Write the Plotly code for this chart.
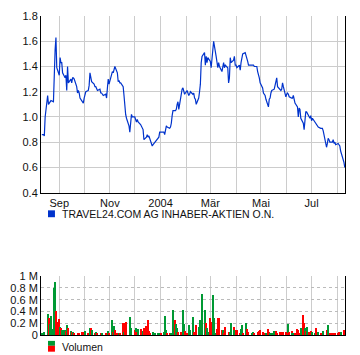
import plotly.graph_objects as go
import pandas as pd

# ---- data ----
price_name = "TRAVEL24.COM AG INHABER-AKTIEN O.N."
volume_name = "Volumen"

# daily close, trading days from 2003-08-11
price = [
    0.86, 0.86, 0.86, 0.85, 1.00, 1.17,
    1.10, 1.11, 1.12, 1.13, 1.12, 1.45,
    1.53, 1.63, 1.39, 1.33, 1.47, 1.43,
    1.43, 1.35, 1.31, 1.33, 1.21, 1.40,
    1.27, 1.30, 1.27, 1.31, 1.31, 1.30,
    1.24, 1.19, 1.21, 1.19, 1.15, 1.12,
    1.11, 1.15, 1.19, 1.20, 1.21, 1.25,
    1.35, 1.32, 1.28, 1.26, 1.24, 1.24,
    1.22, 1.21, 1.22, 1.19, 1.19, 1.18,
    1.17, 1.18, 1.15, 1.23, 1.30, 1.26,
    1.34, 1.36, 1.35, 1.39, 1.40, 1.35,
    1.28, 1.29, 1.27, 1.27, 1.24, 1.17,
    1.04, 1.02, 0.99, 0.93, 0.88, 1.00,
    1.02, 1.00, 1.00, 0.98, 0.96, 0.98,
    0.96, 0.94, 0.93, 0.92, 0.90, 0.82,
    0.84, 0.86, 0.84, 0.85, 0.83, 0.77,
    0.78, 0.79, 0.80, 0.81, 0.83, 0.84,
    0.88, 0.88, 0.88, 0.88, 0.86, 0.92,
    0.93, 0.92, 0.91, 0.92, 0.95, 1.01,
    1.05, 1.05, 1.06, 1.10, 1.12, 1.06,
    1.19, 1.22, 1.23, 1.19, 1.18, 1.21,
    1.19, 1.17, 1.18, 1.20, 1.18, 1.19,
    1.15, 1.14, 1.10, 1.15, 1.20, 1.26,
    1.43, 1.48, 1.51, 1.41, 1.48, 1.43,
    1.47, 1.44, 1.39, 1.49, 1.59, 1.60,
    1.48, 1.41, 1.39, 1.43, 1.40, 1.36,
    1.39, 1.43, 1.39, 1.41, 1.39, 1.27,
    1.31, 1.47, 1.43, 1.45, 1.48, 1.41,
    1.41, 1.39, 1.41, 1.37, 1.43, 1.48,
    1.50, 1.51, 1.49, 1.47, 1.44, 1.41,
    1.41, 1.41, 1.41, 1.41, 1.40, 1.40,
    1.36, 1.34, 1.31, 1.27, 1.23, 1.19,
    1.18, 1.17, 1.14, 1.08, 1.14, 1.15,
    1.19, 1.21, 1.22, 1.26, 1.28, 1.31,
    1.24, 1.22, 1.21, 1.22, 1.27, 1.24,
    1.16, 1.18, 1.19, 1.18, 1.16, 1.15,
    1.15, 1.17, 1.14, 1.11, 1.08, 1.00,
    1.07, 1.06, 0.99, 0.95, 0.90, 0.97,
    1.04, 1.04, 1.00, 0.99, 1.01, 0.97,
    0.99, 0.96, 0.94, 0.93, 0.93, 0.92,
    0.91, 0.91, 0.91, 0.89, 0.86, 0.76,
    0.79, 0.83, 0.82, 0.80, 0.80, 0.82,
    0.79, 0.80, 0.78, 0.79, 0.78, 0.77,
    0.73, 0.71, 0.64, 0.60,
]

# daily volume in thousands of shares
volume_k = [
    28, 0, 28, 55, 0, 67, 350, 280, 180, 320,
    100, 800, 900, 400, 220, 270, 130, 110, 80, 80,
    90, 70, 170, 0, 110, 70, 50, 50, 55, 30,
    0, 40, 40, 40, 0, 50, 50, 0, 67, 0,
    30, 0, 110, 110, 75, 0, 40, 50, 0, 30,
    0, 30, 0, 30, 0, 20, 0, 0, 67, 30,
    250, 0, 55, 150, 80, 40, 0, 40, 28, 0,
    195, 55, 195, 110, 220, 0, 300, 110, 80, 0,
    80, 110, 55, 0, 95, 55, 95, 0, 70, 110,
    150, 0, 260, 67, 40, 0, 55, 0, 28, 0,
    28, 0, 28, 0, 40, 55, 0, 320, 80, 28,
    0, 28, 28, 0, 430, 260, 190, 110, 55, 0,
    55, 0, 430, 190, 60, 40, 0, 170, 80, 80,
    310, 55, 0, 28, 165, 140, 55, 260, 55, 690,
    410, 420, 210, 110, 55, 280, 220, 80, 670, 290,
    28, 95, 290, 140, 280, 80, 80, 80, 28, 130,
    0, 55, 28, 55, 210, 130, 80, 55, 80, 80,
    0, 28, 95, 165, 28, 0, 195, 95, 50, 28,
    0, 28, 12, 50, 28, 0, 28, 50, 70, 80,
    55, 0, 28, 28, 40, 95, 55, 40, 0, 40,
    60, 40, 67, 28, 0, 45, 55, 28, 0, 50,
    55, 0, 180, 40, 55, 70, 28, 0, 28, 40,
    95, 80, 28, 0, 110, 330, 210, 110, 70, 130,
    45, 0, 60, 55, 0, 28, 110, 55, 0, 55,
    28, 0, 40, 60, 0, 55, 80, 165, 0, 28,
    17, 28, 0, 28, 0, 17, 55, 0, 50, 50,
    80, 40,
]

# g = up day (green bar), r = down day (red bar)
vol_dir = (
    "gggggggrgg gggrrrgrgg grggrgrrgr grrrgrrggg rggrggrggr "
    "grgggrgggr ggrgrrggrg rgrrrggggg rgrggrrggr rgrrrggggg "
    "ggggrggggr grgggrggrg rgggrrggrg grgrrggggg ggrggrrrgg "
    "grrgrrggrr grrggrggrr grggrggrrr ggrgrggrrr rgrrgrrggg "
    "ggrrgrrrgr rggrrrgggr rrrggrrgrg rgrgggrrgg rgrggrrggr "
    "rrgrgrrgrg rr"
)

month_labels = ["Sep", "", "Nov", "", "2004", "", "Mär", "", "Mai", "", "Jul", ""]
vol_tick_vals = [0, 200, 400, 600, 800, 1000]
vol_tick_text = ["0", "0.2 M", "0.4 M", "0.6 M", "0.8 M", "1 M"]

# ---- derived ----
dates = pd.bdate_range("2003-08-11", periods=len(price))
month_ticks = pd.date_range("2003-09-01", periods=len(month_labels), freq="MS")
dir_flags = vol_dir.replace(" ", "")
GREEN, RED, BLUE = "#009933", "#ff0000", "#0033cc"
bar_colors = [GREEN if c == "g" else RED for c in dir_flags]

# pixel helpers for the hand-drawn legends
W, H = 360, 355
ML, MR, MT, MB = 40, 15, 10, 20
PW, PH = W - ML - MR, H - MT - MB


def px_x(p):
    return (p - ML) / PW


def px_y(p):
    return (H - MB - p) / PH


GRID = "#cccccc"
FONT = "Liberation Sans, Arial, sans-serif"
tickfont = dict(family=FONT, size=11, color="#111111")

fig = go.Figure()
fig.add_trace(go.Scatter(
    x=dates, y=price, mode="lines", name=price_name,
    line=dict(color=BLUE, width=1.2),
    xaxis="x", yaxis="y", showlegend=False,
))
fig.add_trace(go.Bar(
    x=dates, y=volume_k, name=volume_name,
    marker=dict(color=bar_colors, line=dict(width=0)),
    width=1.25 * 86400000,
    xaxis="x2", yaxis="y2", showlegend=False,
))

xrange = ["2003-08-10", "2004-08-10 06:00"]
fig.update_layout(
    width=W, height=H,
    margin=dict(l=ML, r=MR, t=MT, b=MB, pad=0),
    paper_bgcolor="white", plot_bgcolor="white",
    font=dict(family=FONT, size=11, color="#111111"),
    bargap=0,
    xaxis=dict(
        domain=[0, 1], anchor="y", range=xrange, type="date",
        tickmode="array", tickvals=month_ticks, ticktext=month_labels,
        showgrid=True, gridcolor=GRID, gridwidth=1,
        showline=True, linecolor="black", linewidth=1,
        ticks="", tickfont=tickfont, zeroline=False,
    ),
    yaxis=dict(
        domain=[px_y(190), 1], anchor="x", range=[0.4, 1.8],
        tickmode="linear", tick0=0.4, dtick=0.2, tickformat=".1f",
        showgrid=True, gridcolor=GRID, gridwidth=1,
        showline=True, linecolor="black", linewidth=1, mirror=True,
        ticks="", tickfont=tickfont, zeroline=False,
    ),
    xaxis2=dict(
        domain=[0, 1], anchor="y2", range=xrange, type="date",
        tickmode="array", tickvals=month_ticks, showticklabels=False,
        showgrid=True, gridcolor=GRID, gridwidth=1,
        showline=True, linecolor="black", linewidth=1,
        ticks="", zeroline=False,
    ),
    yaxis2=dict(
        domain=[0, px_y(275)], anchor="x2", range=[0, 1000],
        tickmode="array", tickvals=vol_tick_vals, ticktext=vol_tick_text,
        showgrid=True, gridcolor="#bbbbbb", gridwidth=1, griddash="dot",
        showline=True, linecolor="black", linewidth=1, mirror=True,
        ticks="", tickfont=tickfont, zeroline=False,
    ),
)

# legends drawn as shapes + text
fig.add_shape(type="rect", xref="paper", yref="paper",
              x0=px_x(47), x1=px_x(54), y0=px_y(215), y1=px_y(208),
              fillcolor=BLUE, line=dict(width=0))
fig.add_annotation(xref="paper", yref="paper", x=px_x(59), y=px_y(211.5),
                   text=price_name, showarrow=False, xanchor="left", yanchor="middle",
                   font=dict(family=FONT, size=10.5, color="#111111"))
fig.add_shape(type="rect", xref="paper", yref="paper",
              x0=px_x(47), x1=px_x(54), y0=px_y(346), y1=px_y(341),
              fillcolor=GREEN, line=dict(width=0))
fig.add_shape(type="rect", xref="paper", yref="paper",
              x0=px_x(47), x1=px_x(54), y0=px_y(352), y1=px_y(346),
              fillcolor=RED, line=dict(width=0))
fig.add_annotation(xref="paper", yref="paper", x=px_x(59), y=px_y(347),
                   text=volume_name, showarrow=False, xanchor="left", yanchor="middle",
                   font=dict(family=FONT, size=10.5, color="#111111"))

fig.write_html("out.html")
